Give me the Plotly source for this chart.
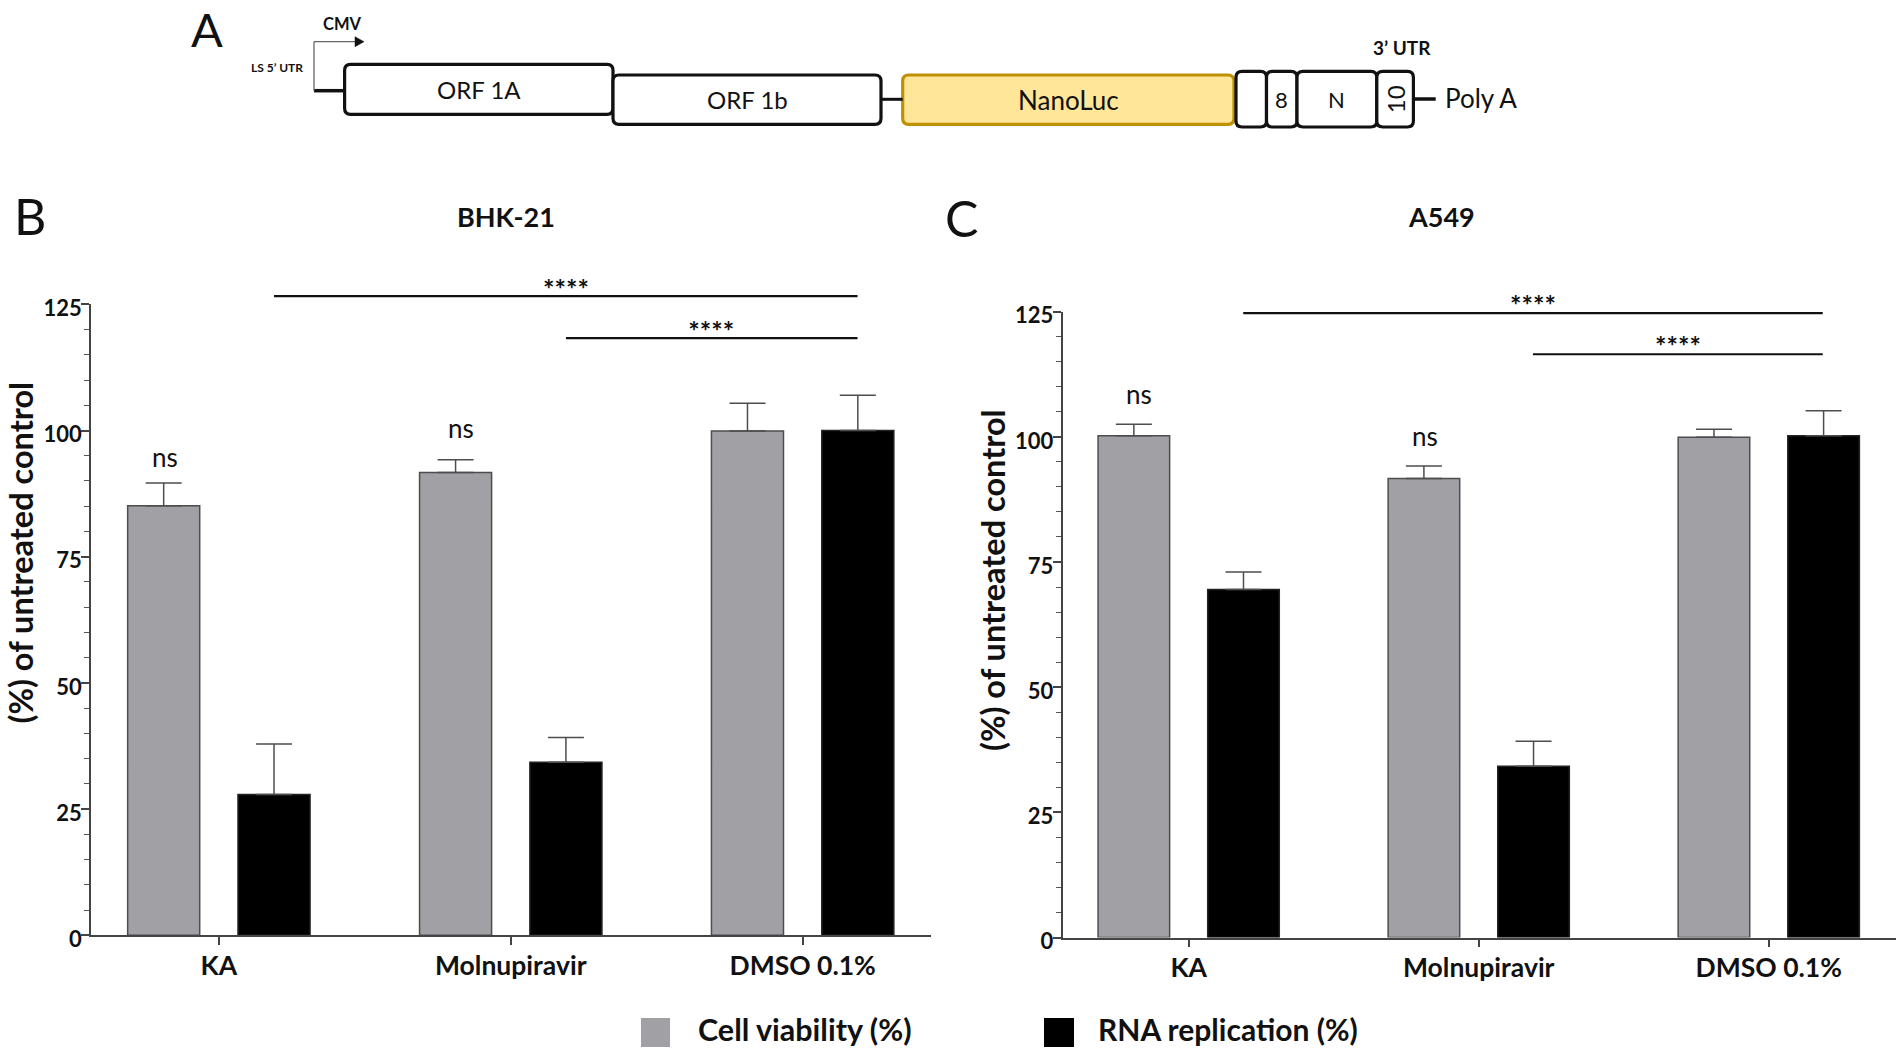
import plotly.graph_objects as go

FIG_W, FIG_H = 1902, 1053
FONT = "Lato"

# ---- data ----
categories = ["KA", "Molnupiravir", "DMSO 0.1%"]
series_names = ["Cell viability (%)", "RNA replication (%)"]
bhk_viability = [85.1, 91.7, 99.9]
bhk_viability_err = [4.5, 2.5, 5.5]
bhk_rna = [27.9, 34.3, 100.0]
bhk_rna_err = [10.0, 4.9, 7.0]
a549_viability = [100.2, 91.7, 99.9]
a549_viability_err = [2.3, 2.5, 1.6]
a549_rna = [69.5, 34.2, 100.2]
a549_rna_err = [3.5, 5.0, 5.0]
y_major = [0, 25, 50, 75, 100, 125]

GRAY, BLACK, EDGE = "#A1A1A5", "#000000", "#4D4D4D"
PASS = [0, 1, 2]
SIG_TOP = 150  # hidden helper y axes reach this value, so marks above 125 are drawn

fig = go.Figure()


def add_panel(vals1, err1, vals2, err2, xa, ya):
    for name, vals, err, col in ((series_names[0], vals1, err1, GRAY), (series_names[1], vals2, err2, BLACK)):
        fig.add_trace(go.Bar(
            x=PASS, y=vals, name=name, xaxis=xa, yaxis=ya, showlegend=False,
            marker=dict(color=col, line=dict(color=EDGE if col == GRAY else "#222222", width=1.5)),
            error_y=dict(type="data", symmetric=False, array=err, arrayminus=[0, 0, 0],
                         color=EDGE, thickness=1.5, width=18),
        ))


add_panel(bhk_viability, bhk_viability_err, bhk_rna, bhk_rna_err, "x", "y")
add_panel(a549_viability, a549_viability_err, a549_rna, a549_rna_err, "x2", "y2")

# significance lines, in data units
sig_lines = [
    ("x", "y4", [0.189, 2.188], [126.6, 126.6]),
    ("x", "y4", [1.189, 2.188], [118.3, 118.3]),
    ("x2", "y5", [0.188, 2.186], [124.7, 124.7]),
    ("x2", "y5", [1.187, 2.186], [116.5, 116.5]),
]
for xa, ya, xs, ys in sig_lines:
    fig.add_trace(go.Scatter(x=xs, y=ys, xaxis=xa, yaxis=ya, mode="lines", cliponaxis=False,
                             showlegend=False, hoverinfo="skip", line=dict(color="#111111", width=2.2)))

sig_text = [
    ("x", "y4", 1.189, 127.4), ("x", "y4", 1.687, 119.1),
    ("x2", "y5", 1.187, 125.7), ("x2", "y5", 1.687, 117.4),
]
ns_text = [
    ("x", "y", -0.184, 94.8), ("x", "y", 0.83, 100.5),
    ("x2", "y2", -0.171, 108.5), ("x2", "y2", 0.815, 100.1),
]
for xa, ya, x, y in sig_text:
    fig.add_trace(go.Scatter(x=[x], y=[y], xaxis=xa, yaxis=ya, mode="text", text=["<b>****</b>"],
                             cliponaxis=False, showlegend=False, hoverinfo="skip", textposition="middle center",
                             textfont=dict(family=FONT, size=27, color="#111111")))
ann = []
for xa, ya, x, y in ns_text:
    ann.append(dict(x=x, y=y, xref=xa, yref=ya, text="ns", showarrow=False,
                    font=dict(family=FONT, size=26, color="#111111")))


def label(x, y, text, size, bold=False, angle=0, color="#111111", anchor="center"):
    ann.append(dict(x=x, y=y, xref="x3", yref="y3", text=f"<b>{text}</b>" if bold else text,
                    showarrow=False, textangle=angle, xanchor=anchor, yanchor="middle",
                    font=dict(family=FONT, size=size, color=color)))


# panel labels, titles, axis titles
label(207, 28.5, "A", 47)
label(30, 216, "B", 50)
label(961, 218, "C", 50)
label(506, 216, "BHK-21", 27, bold=True)
label(1441, 216, "A549", 27, bold=True)
label(19.5, 553, "(%) of untreated control", 32.5, bold=True, angle=-90)
label(992, 580, "(%) of untreated control", 32.5, bold=True, angle=-90)

# legend
label(695.5, 1029, series_names[0], 30.5, bold=True, anchor="left")
label(1096, 1029, series_names[1], 30, bold=True, anchor="left")

# genome schematic: (name, x0, x1, y0, y1, fill, stroke)
genes = [
    ("ORF 1A", 344.6, 613, 64.3, 114.3, "#FFFFFF", "#111111"),
    ("ORF 1b", 613, 881, 75, 124.3, "#FFFFFF", "#111111"),
    ("NanoLuc", 902.7, 1234, 75, 124.3, "#FFE699", "#BF9000"),
    ("", 1236, 1266.5, 71.3, 127, "#FFFFFF", "#111111"),
    ("8", 1266.5, 1297, 71.3, 127, "#FFFFFF", "#111111"),
    ("N", 1297, 1376.8, 71.3, 127, "#FFFFFF", "#111111"),
    ("10", 1376.8, 1413.4, 71.3, 127, "#FFFFFF", "#111111"),
]
gene_font = {"ORF 1A": 24, "ORF 1b": 24, "NanoLuc": 26, "8": 22, "N": 22, "10": 24}
shapes = []


def rrect(x0, x1, y0, y1, r=6):
    return (f"M{x0+r},{y0} L{x1-r},{y0} Q{x1},{y0} {x1},{y0+r} L{x1},{y1-r} Q{x1},{y1} {x1-r},{y1} "
            f"L{x0+r},{y1} Q{x0},{y1} {x0},{y1-r} L{x0},{y0+r} Q{x0},{y0} {x0+r},{y0} Z")


for name, x0, x1, y0, y1, fill, stroke in genes:
    shapes.append(dict(type="path", path=rrect(x0, x1, y0, y1), xref="x3", yref="y3",
                       fillcolor=fill, line=dict(color=stroke, width=3.2)))
    if name:
        label((x0 + x1) / 2, (y0 + y1) / 2, name, gene_font[name], angle=-90 if name == "10" else 0)

for x0, x1, y, w, c in [(314, 344.6, 90.7, 3.5, "#111111"), (881, 902.7, 99.3, 3, "#111111"),
                        (1413.4, 1435.7, 99, 3.5, "#111111"), (314, 356, 41.7, 1.3, "#666666")]:
    shapes.append(dict(type="line", x0=x0, x1=x1, y0=y, y1=y, xref="x3", yref="y3", line=dict(color=c, width=w)))
shapes.append(dict(type="line", x0=314, x1=314, y0=41.7, y1=90.7, xref="x3", yref="y3",
                   line=dict(color="#666666", width=1.3)))
shapes.append(dict(type="path", path="M355,36.7 L364,41.7 L355,46.7 Z", xref="x3", yref="y3",
                   fillcolor="#111111", line=dict(color="#111111", width=0.5)))
# legend swatches
shapes.append(dict(type="rect", x0=641, x1=670, y0=1018, y1=1047, xref="x3", yref="y3",
                   fillcolor=GRAY, line=dict(width=0)))
shapes.append(dict(type="rect", x0=1044, x1=1074, y0=1018, y1=1047, xref="x3", yref="y3",
                   fillcolor=BLACK, line=dict(width=0)))

label(1481, 98, "Poly A", 26)
label(1402, 47, "3’ UTR", 19, bold=True)
label(342, 24, "CMV", 16.5, bold=True)
label(277, 67, "LS 5’ UTR", 12, bold=True)


def yaxis(anchor, top_px, zero_px):
    return dict(domain=[1 - zero_px / FIG_H, 1 - top_px / FIG_H], anchor=anchor, range=[0, 125],
                automargin=False,
                tickvals=y_major, ticks="outside", ticklen=8, tickwidth=1.5, tickcolor="#444444",
                showline=True, linewidth=1.5, linecolor="#444444", showgrid=False, zeroline=False,
                ticklabelstandoff=-5, ticklabelshift=4,
                minor=dict(dtick=5, tick0=0, ticks="outside", ticklen=5, tickwidth=1.2,
                           tickcolor="#555555", showgrid=False),
                tickfont=dict(family=FONT, size=22, color="#111111", weight="bold"))


def helper_yaxis(anchor, top_px, zero_px):
    full = (zero_px - top_px) * SIG_TOP / 125
    return dict(domain=[1 - zero_px / FIG_H, 1 - (zero_px - full) / FIG_H], anchor=anchor, range=[0, SIG_TOP],
                automargin=False, visible=False, fixedrange=True)


def xaxis(anchor, left_px, right_px, rng):
    return dict(domain=[left_px / FIG_W, right_px / FIG_W], anchor=anchor, range=rng,
                automargin=False,
                tickmode="array", tickvals=PASS, ticktext=categories, ticks="outside", ticklen=8,
                tickwidth=1.5, tickcolor="#444444", showline=True, linewidth=1.5, linecolor="#444444",
                showgrid=False, zeroline=False, ticklabelstandoff=-2,
                tickfont=dict(family=FONT, size=26.5, color="#111111", weight="bold"))


fig.update_layout(
    width=FIG_W, height=FIG_H, margin=dict(l=0, r=0, t=0, b=0, pad=0),
    paper_bgcolor="white", plot_bgcolor="rgba(0,0,0,0)", showlegend=False,
    barmode="group", bargap=0.244, bargroupgap=0.347,
    xaxis=xaxis("y", 91, 930.5, [-0.438, 2.438]),
    yaxis=yaxis("x", 304.3, 935.3),
    xaxis2=xaxis("y2", 1062.5, 1896.4, [-0.435, 2.44]),
    yaxis2=yaxis("x2", 311.7, 937.5),
    xaxis3=dict(domain=[0, 1], range=[0, FIG_W], visible=False, anchor="y3", fixedrange=True, automargin=False),
    yaxis3=dict(domain=[0, 1], range=[FIG_H, 0], visible=False, anchor="x3", fixedrange=True, automargin=False),
    yaxis4=helper_yaxis("x", 304.3, 935.3),
    yaxis5=helper_yaxis("x2", 311.7, 937.5),
    shapes=shapes, annotations=ann,
)
# overlay trace so the helper axes exist
fig.add_trace(go.Scatter(x=[0], y=[0], xaxis="x3", yaxis="y3", mode="markers", marker=dict(opacity=0),
                         showlegend=False, hoverinfo="skip"))

# the figure fills the window exactly, so drop the page's default body margin
fig.write_html("out.html", config={"displayModeBar": False}, post_script="document.body.style.margin='0';")
